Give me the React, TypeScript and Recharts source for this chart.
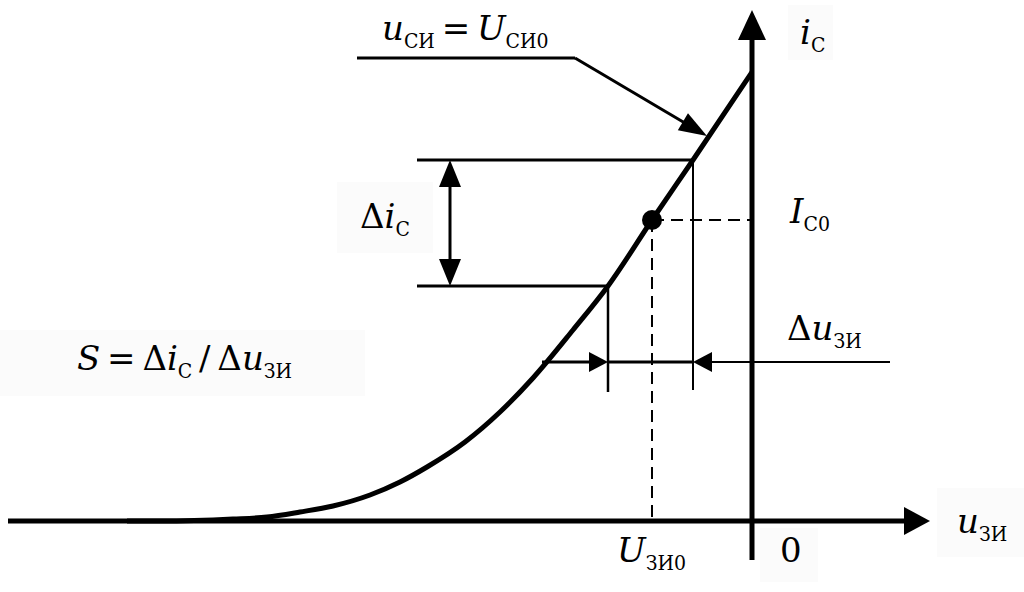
import {
  ComposedChart, Line, XAxis, YAxis, ReferenceLine, ReferenceDot, ReferenceArea,
} from 'recharts'

// transfer characteristic i_C(u_ZI) (arbitrary units)
const gateVoltage = [-12.5, -11.84, -10.38, -9.7, -9.04, -8.38, -7.64, -7.04, -6.5, -5.74, -5.04, -4.38, -3.58, -2.88, -2.0, -1.18, 0]
const drainCurrent = [0, 0, 0.04, 0.08, 0.18, 0.3, 0.52, 0.78, 1.08, 1.58, 2.18, 2.86, 3.82, 4.7, 6.02, 7.22, 8.98]

// operating point and the increments around it
const uOp = -2.0
const iOp = 6.02
const uLow = -2.88
const uHigh = -1.18
const iLow = 4.7
const iHigh = 7.22
const iDeltaU = 3.18

const data = gateVoltage.map((u, k) => ({ u, i: drainCurrent[k] }))

const FONT = 'DejaVu Serif'
const SUB_FONT = "'DejaVu Serif Condensed', 'DejaVu Serif'"
const TH = '\u2009'

type Part = { t: string; it?: boolean; sub?: boolean }

const mathLabel = (parts: Part[], size = 34, subSize = 21) => (p: any) => {
  let prevSub = false
  return (
    <text x={p.cx} y={p.cy} fontFamily={FONT} fontSize={size} fill="#000" style={{ whiteSpace: 'pre' }}>
      {parts.map((q, k) => {
        const sub = !!q.sub
        const dy = sub && !prevSub ? 8 : !sub && prevSub ? -8 : 0
        prevSub = sub
        return (
          <tspan key={k} dy={dy || undefined} fontSize={sub ? subSize : size}
            fontFamily={sub ? SUB_FONT : FONT}
            style={sub ? { fontStretch: 'condensed' } : undefined}
            fontStyle={q.it ? 'italic' : 'normal'}>{q.t}</tspan>
        )
      })}
    </text>
  )
}

const arrow = (w: number, o: { head?: number; half?: number; start?: boolean; end?: boolean; dash?: string } = {}) =>
  (p: any) => {
    const { x1, y1, x2, y2 } = p
    const len = Math.hypot(x2 - x1, y2 - y1) || 1
    const ux = (x2 - x1) / len
    const uy = (y2 - y1) / len
    const head = o.head ?? 0
    const half = o.half ?? 0
    const tri = (tx: number, ty: number, dx: number, dy: number) => {
      const bx = tx - dx * head
      const by = ty - dy * head
      return `${tx},${ty} ${bx - dy * half},${by + dx * half} ${bx + dy * half},${by - dx * half}`
    }
    const sx = o.start ? x1 + ux * head * 0.9 : x1
    const sy = o.start ? y1 + uy * head * 0.9 : y1
    const ex = o.end ? x2 - ux * head * 0.9 : x2
    const ey = o.end ? y2 - uy * head * 0.9 : y2
    return (
      <g>
        <line x1={sx} y1={sy} x2={ex} y2={ey} stroke="#000" strokeWidth={w} strokeDasharray={o.dash} />
        {o.end && <polygon points={tri(x2, y2, ux, uy)} fill="#000" />}
        {o.start && <polygon points={tri(x1, y1, -ux, -uy)} fill="#000" />}
      </g>
    )
  }

const BOX = '#fbfbfb'

export default function App() {
  return (
    <div style={{ position: 'absolute', left: 0, top: 0, background: '#fff' }}>
      <ComposedChart width={1024} height={592} data={data} margin={{ top: 0, right: 0, bottom: 0, left: 0 }}>
        <XAxis type="number" dataKey="u" domain={[-15.04, 5.44]} allowDataOverflow hide />
        <YAxis type="number" domain={[-1.42, 10.42]} allowDataOverflow hide />

        {/* faint label backgrounds */}
        <ReferenceArea x1={0.72} x2={1.62} y1={9.22} y2={10.32} fill={BOX} fillOpacity={1} />
        <ReferenceArea x1={-8.3} x2={-6.38} y1={5.36} y2={6.78} fill={BOX} fillOpacity={1} />
        <ReferenceArea x1={-15.04} x2={-7.74} y1={2.5} y2={3.82} fill={BOX} fillOpacity={1} />
        <ReferenceArea x1={0.16} x2={1.32} y1={-1.22} y2={-0.14} fill={BOX} fillOpacity={1} />
        <ReferenceArea x1={3.7} x2={5.44} y1={-0.72} y2={0.66} fill={BOX} fillOpacity={1} />

        {/* axes */}
        <ReferenceLine segment={[{ x: -14.88, y: 0 }, { x: 3.56, y: 0 }]} shape={arrow(5, { end: true, head: 26, half: 14 })} />
        <ReferenceLine segment={[{ x: 0, y: -0.78 }, { x: 0, y: 10.22 }]} shape={arrow(5, { end: true, head: 30, half: 14 })} />

        {/* pointer to the curve */}
        <ReferenceLine segment={[{ x: -7.9, y: 9.26 }, { x: -3.54, y: 9.26 }]} shape={arrow(3)} />
        <ReferenceLine segment={[{ x: -3.54, y: 9.26 }, { x: -0.9, y: 7.7 }]} shape={arrow(3, { end: true, head: 28, half: 10 })} />

        {/* Δi_C construction */}
        <ReferenceLine segment={[{ x: -6.7, y: iHigh }, { x: uHigh, y: iHigh }]} shape={arrow(3)} />
        <ReferenceLine segment={[{ x: -6.7, y: iLow }, { x: uLow, y: iLow }]} shape={arrow(3)} />
        <ReferenceLine segment={[{ x: -6.04, y: iLow }, { x: -6.04, y: iHigh }]} shape={arrow(3, { start: true, end: true, head: 27, half: 11 })} />

        {/* Δu_ZI construction */}
        <ReferenceLine segment={[{ x: uLow, y: iLow }, { x: uLow, y: 2.58 }]} shape={arrow(2.5)} />
        <ReferenceLine segment={[{ x: uHigh, y: iHigh }, { x: uHigh, y: 2.62 }]} shape={arrow(2)} />
        <ReferenceLine segment={[{ x: -4.2, y: iDeltaU }, { x: uLow, y: iDeltaU }]} shape={arrow(3, { end: true, head: 19, half: 10 })} />
        <ReferenceLine segment={[{ x: uLow, y: iDeltaU }, { x: uHigh, y: iDeltaU }]} shape={arrow(3)} />
        <ReferenceLine segment={[{ x: 2.76, y: iDeltaU }, { x: uHigh, y: iDeltaU }]} shape={arrow(2, { end: true, head: 19, half: 10 })} />

        {/* operating point projections */}
        <ReferenceLine segment={[{ x: uOp, y: iOp }, { x: 0, y: iOp }]} shape={arrow(2, { dash: '12 7' })} />
        <ReferenceLine segment={[{ x: uOp, y: iOp }, { x: uOp, y: 0 }]} shape={arrow(2, { dash: '12 7' })} />

        <Line type="monotone" dataKey="i" stroke="#000" strokeWidth={5} dot={false} activeDot={false} isAnimationActive={false} />

        <ReferenceDot x={uOp} y={iOp} r={10} fill="#000" stroke="none" />

        {/* labels */}
        <ReferenceDot x={-7.4} y={9.62} shape={mathLabel([{ t: 'u', it: true }, { t: 'СИ', sub: true }, { t: TH + '=' + TH }, { t: 'U', it: true }, { t: 'СИ0', sub: true }])} />
        <ReferenceDot x={0.96} y={9.54} shape={mathLabel([{ t: 'i', it: true }, { t: 'C', sub: true }])} />
        <ReferenceDot x={-7.84} y={5.86} shape={mathLabel([{ t: 'Δ' }, { t: 'i', it: true }, { t: 'C', sub: true }])} />
        <ReferenceDot x={0.76} y={5.96} shape={mathLabel([{ t: 'I', it: true }, { t: 'C0', sub: true }])} />
        <ReferenceDot x={0.7} y={3.62} shape={mathLabel([{ t: 'Δ' }, { t: 'u', it: true }, { t: 'ЗИ', sub: true }])} />
        <ReferenceDot x={-13.5} y={3.02} shape={mathLabel([{ t: 'S', it: true }, { t: TH + '=' + TH }, { t: 'Δ' }, { t: 'i', it: true }, { t: 'C', sub: true }, { t: TH + '/' + TH }, { t: 'Δ' }, { t: 'u', it: true }, { t: 'ЗИ', sub: true }])} />
        <ReferenceDot x={-2.7} y={-0.82} shape={mathLabel([{ t: 'U', it: true }, { t: 'ЗИ0', sub: true }])} />
        <ReferenceDot x={0.56} y={-0.82} shape={mathLabel([{ t: '0' }])} />
        <ReferenceDot x={4.1} y={-0.24} shape={mathLabel([{ t: 'u', it: true }, { t: 'ЗИ', sub: true }])} />
      </ComposedChart>
    </div>
  )
}
